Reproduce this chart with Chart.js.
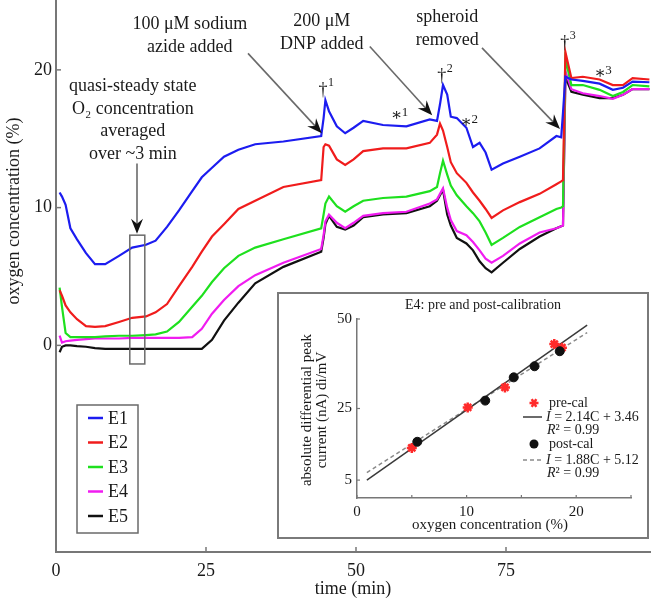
<!DOCTYPE html>
<html>
<head>
<meta charset="utf-8">
<script src="https://cdn.jsdelivr.net/npm/chart.js@4.4.0/dist/chart.umd.min.js"></script>
<style>
  body { margin: 0; background: #fff; }
  #wrap { position: relative; width: 652px; height: 601px; }
  canvas { display: block; }
  #inset { position: absolute; left: 277px; top: 292px; width: 368px; height: 243px;
           border: 2px solid #7a7a7a; background: #fff; }
</style>
</head>
<body>
<div id="wrap">
  <canvas id="main" width="652" height="601"></canvas>
  <div id="inset"><canvas id="cal" width="368" height="243"></canvas></div>
</div>
<script>
// main trace, time in min, O2 in %
const times = [0.6, 1.0, 1.6, 2.4, 3.5, 5.0, 6.5, 8.2, 10.5, 12.7,
  15.0, 16.6, 18.5, 20.5, 22.7, 24.3, 26.0, 28.0, 30.4, 33.2,
  37.9, 44.2, 44.6, 44.9, 45.5, 46.8, 48.2, 49.6, 51.2, 54.5,
  58.4, 62.3, 63.5, 64.0, 64.5, 65.2, 65.8, 66.8, 68.4, 69.5,
  70.6, 71.6, 72.6, 74.5, 77.3, 80.6, 83.4, 84.2, 84.5, 84.9,
  85.9, 87.8, 90.6, 92.8, 94.5, 96.1, 98.9];
const e1 = [11.1, 10.8, 10.2, 8.5, 7.7, 6.7, 5.9, 5.9, 6.5, 7.1,
  7.3, 7.6, 8.6, 9.8, 11.2, 12.2, 12.9, 13.7, 14.2, 14.6,
  14.8, 15.2, 16.5, 17.8, 17.0, 15.9, 15.4, 15.8, 16.3, 16.0,
  15.9, 16.4, 16.3, 17.5, 18.9, 18.2, 16.6, 16.5, 15.8, 14.4,
  14.7, 14.0, 12.75, 13.2, 13.7, 14.3, 15.2, 15.1, 16.9, 19.5,
  19.3, 19.2, 19.0, 18.55, 18.7, 19.15, 19.1];
const e2 = [4.0, 3.6, 2.9, 2.4, 1.9, 1.4, 1.35, 1.4, 1.7, 2.0,
  2.1, 2.4, 3.0, 4.3, 5.7, 6.8, 7.9, 8.8, 9.9, 10.5,
  11.5, 12.0, 14.4, 14.6, 14.5, 13.5, 13.1, 13.5, 14.1, 14.3,
  14.3, 14.7, 15.3, 16.1, 15.6, 14.4, 13.3, 12.5, 11.8, 11.1,
  10.5, 9.9, 9.25, 9.8, 10.4, 11.0, 11.7, 11.9, 12.0, 21.3,
  19.4, 19.5, 19.3, 18.9, 18.9, 19.4, 19.3];
const e3 = [4.2, 2.8, 0.9, 0.6, 0.6, 0.6, 0.6, 0.65, 0.7, 0.7,
  0.75, 0.8, 1.0, 1.7, 2.8, 3.6, 4.6, 5.6, 6.5, 7.1,
  7.7, 8.5, 9.5, 10.3, 10.8, 10.1, 9.7, 10.1, 10.5, 10.7,
  10.8, 11.2, 11.5, 12.5, 13.4, 12.4, 11.6, 10.9, 10.1, 9.6,
  9.0, 8.2, 7.3, 7.8, 8.6, 9.3, 9.9, 10.0, 10.1, 20.8,
  18.9, 18.9, 18.55, 18.1, 18.4, 18.9, 18.8];
const e4 = [0.7, 0.2, 0.3, 0.35, 0.4, 0.45, 0.5, 0.5, 0.5, 0.55,
  0.55, 0.55, 0.55, 0.55, 0.6, 1.2, 2.3, 3.3, 4.3, 5.1,
  6.0, 7.0, 8.0, 9.0, 9.5, 8.9, 8.5, 8.9, 9.4, 9.6,
  9.7, 10.3, 10.6, 11.0, 11.4, 10.0, 9.1, 8.3, 8.0, 7.5,
  6.9, 6.3, 6.0, 6.5, 7.4, 8.2, 8.5, 8.65, 8.7, 19.9,
  18.6, 18.3, 18.1, 17.9, 18.2, 18.6, 18.6];
const e5 = [-0.5, -0.1, 0.0, 0.0, -0.05, -0.1, -0.2, -0.25, -0.25, -0.25,
  -0.25, -0.25, -0.25, -0.25, -0.25, -0.25, 0.4, 1.8, 3.1, 4.5,
  5.7, 6.8, 7.8, 8.8, 9.4, 8.6, 8.4, 8.7, 9.3, 9.5,
  9.6, 10.1, 10.5, 10.9, 11.3, 9.5, 8.7, 7.8, 7.4, 6.9,
  6.1, 5.6, 5.3, 6.0, 7.0, 7.9, 8.5, 8.65, 8.7, 19.5,
  18.4, 18.2, 17.95, 17.95, 18.2, 18.6, 18.6];
const seriesNames = ['E1', 'E2', 'E3', 'E4', 'E5'];
const seriesValues = [e1, e2, e3, e4, e5];
const seriesColors = ['#1c1cf0', '#f01c1c', '#1ee01e', '#f01cf0', '#111111'];
const xTicks = [0, 25, 50, 75];
const yTicks = [0, 10, 20];

// inset: E4 calibration
const preCalC = [5.0, 10.1, 13.5, 18.0, 18.7];
const preCalI = [14.0, 25.3, 30.9, 43.0, 42.0];
const postCalC = [5.5, 11.7, 14.3, 16.2, 18.5];
const postCalI = [15.7, 27.2, 33.7, 36.8, 41.0];
const preFitC = [0.9, 21.0];
const preFitI = [5.0, 48.3];
const postFitC = [0.9, 21.0];
const postFitI = [7.1, 46.2];
const calXTicks = [0, 5, 10, 15, 20, 25];
const calXLabels = [0, 10, 20];
const calYTicks = [5, 25, 50];

// annotations, anchored in data units
const notes = [
  { lines: ['100 μM sodium', 'azide added'], x: 22.3, y: 23.3 },
  { lines: ['200 μM', 'DNP added'], x: 44.3, y: 23.5 },
  { lines: ['spheroid', 'removed'], x: 65.2, y: 23.8 },
  { lines: ['quasi-steady state', 'O₂ concentration', 'averaged', 'over ~3 min'], x: 12.8, y: 18.8 }
];
const arrows = [
  [32.0, 21.2, 44.3, 15.4],
  [52.3, 21.7, 62.7, 16.7],
  [71.0, 21.6, 84.0, 15.7],
  [13.5, 13.2, 13.5, 8.1]
];
const daggers = [[44.5, 18.5, '1'], [64.3, 19.5, '2'], [84.8, 21.9, '3']];
const asterisks = [[56.8, 16.7, '1'], [68.4, 16.2, '2'], [90.7, 19.75, '3']];
const avgBox = [12.3, 14.8, -1.35, 8.0];

const SERIF = '"Liberation Serif", "DejaVu Serif", serif';
const AXIS = '#777';
const INK = '#1a1a1a';

function drawArrow(ctx, x1, y1, x2, y2) {
  const ang = Math.atan2(y2 - y1, x2 - x1);
  const len = 15, half = 6, notch = 10;
  const bx = x2 - Math.cos(ang) * notch, by = y2 - Math.sin(ang) * notch;
  ctx.strokeStyle = '#6a6a6a';
  ctx.lineWidth = 1.6;
  ctx.beginPath(); ctx.moveTo(x1, y1); ctx.lineTo(bx, by); ctx.stroke();
  const cx = x2 - Math.cos(ang) * len, cy = y2 - Math.sin(ang) * len;
  const px = -Math.sin(ang) * half, py = Math.cos(ang) * half;
  ctx.fillStyle = '#111';
  ctx.beginPath();
  ctx.moveTo(x2, y2);
  ctx.lineTo(cx + px, cy + py);
  ctx.lineTo(bx, by);
  ctx.lineTo(cx - px, cy - py);
  ctx.closePath();
  ctx.fill();
}

const mainDecor = {
  id: 'mainDecor',
  afterDraw(chart) {
    const { ctx, chartArea: a, scales: { x, y } } = chart;
    ctx.save();
    // inward tick marks
    ctx.strokeStyle = AXIS;
    ctx.lineWidth = 1.5;
    xTicks.forEach(v => {
      const p = x.getPixelForValue(v);
      ctx.beginPath(); ctx.moveTo(p, a.bottom); ctx.lineTo(p, a.bottom - 5); ctx.stroke();
    });
    yTicks.forEach(v => {
      const p = y.getPixelForValue(v);
      ctx.beginPath(); ctx.moveTo(a.left, p); ctx.lineTo(a.left + 5, p); ctx.stroke();
    });

    // y title, sits above the axis middle in the original
    ctx.fillStyle = INK;
    ctx.font = '18px ' + SERIF;
    ctx.textAlign = 'center';
    ctx.textBaseline = 'middle';
    ctx.save();
    ctx.translate(14, 211);
    ctx.rotate(-Math.PI / 2);
    ctx.fillText('oxygen concentration (%)', 0, 0);
    ctx.restore();

    // averaging window
    ctx.strokeStyle = '#6a6a6a';
    ctx.lineWidth = 1.5;
    const bx1 = x.getPixelForValue(avgBox[0]), bx2 = x.getPixelForValue(avgBox[1]);
    const by1 = y.getPixelForValue(avgBox[3]), by2 = y.getPixelForValue(avgBox[2]);
    ctx.strokeRect(bx1, by1, bx2 - bx1, by2 - by1);

    arrows.forEach(([x1, y1, x2, y2]) => {
      drawArrow(ctx, x.getPixelForValue(x1), y.getPixelForValue(y1),
        x.getPixelForValue(x2), y.getPixelForValue(y2));
    });

    ctx.fillStyle = INK;
    ctx.font = '18px ' + SERIF;
    notes.forEach(n => {
      const px = x.getPixelForValue(n.x), py = y.getPixelForValue(n.y);
      n.lines.forEach((t, i) => ctx.fillText(t, px, py + i * 22.5));
    });

    daggers.forEach(([dx, dy, s]) => {
      const px = x.getPixelForValue(dx), py = y.getPixelForValue(dy);
      ctx.font = '18px ' + SERIF;
      ctx.textAlign = 'center';
      ctx.fillText('†', px, py);
      ctx.font = '12px ' + SERIF;
      ctx.textAlign = 'left';
      ctx.fillText(s, px + 5, py - 8);
    });
    asterisks.forEach(([dx, dy, s]) => {
      const px = x.getPixelForValue(dx), py = y.getPixelForValue(dy);
      ctx.font = '17px ' + SERIF;
      ctx.textAlign = 'center';
      ctx.fillText('∗', px, py);
      ctx.font = '13px ' + SERIF;
      ctx.textAlign = 'left';
      ctx.fillText(s, px + 5, py - 3);
    });

    // legend
    const lx = a.left + 21, ly = a.top + 404;
    ctx.strokeStyle = '#6a6a6a';
    ctx.lineWidth = 1.5;
    ctx.strokeRect(lx, ly, 61, 128);
    ctx.font = '18px ' + SERIF;
    ctx.textAlign = 'left';
    seriesNames.forEach((name, i) => {
      const ry = ly + 13 + i * 24.5;
      ctx.strokeStyle = seriesColors[i];
      ctx.lineWidth = 2.5;
      ctx.beginPath(); ctx.moveTo(lx + 11, ry); ctx.lineTo(lx + 26, ry); ctx.stroke();
      ctx.fillStyle = INK;
      ctx.fillText(name, lx + 31, ry + 1);
    });
    ctx.restore();
  }
};

new Chart(document.getElementById('main'), {
  type: 'line',
  data: {
    datasets: seriesNames.map((name, i) => ({
      label: name,
      data: times.map((t, j) => ({ x: t, y: seriesValues[i][j] })),
      borderColor: seriesColors[i],
      borderWidth: 2.2,
      pointRadius: 0,
      tension: 0,
      fill: false
    }))
  },
  options: {
    responsive: false,
    animation: false,
    layout: { padding: { top: 1, right: 2, left: 0, bottom: 0 } },
    plugins: { legend: { display: false }, tooltip: { enabled: false } },
    scales: {
      x: {
        type: 'linear', min: 0, max: 99,
        afterBuildTicks: s => { s.ticks = xTicks.map(v => ({ value: v })); },
        afterFit: s => { s.height = 49; },
        grid: { display: false, drawTicks: false },
        border: { display: true, color: AXIS, width: 2 },
        ticks: { color: INK, padding: 8, font: { family: SERIF, size: 18 } },
        title: { display: true, text: 'time (min)', color: INK, padding: { top: 0, bottom: 1 },
                 font: { family: SERIF, size: 18 } }
      },
      y: {
        type: 'linear', min: -15, max: 25,
        afterBuildTicks: s => { s.ticks = yTicks.map(v => ({ value: v })); },
        afterFit: s => { s.width = 56; s.paddingTop = 0; s.paddingBottom = 0; },
        grid: { display: false, drawTicks: false },
        border: { display: true, color: AXIS, width: 2 },
        ticks: { color: INK, padding: 4, font: { family: SERIF, size: 18 } }
      }
    }
  },
  plugins: [mainDecor]
});

// ---- inset ----
function drawItalicLead(ctx, lead, rest, x, y, size) {
  ctx.font = 'italic ' + size + 'px ' + SERIF;
  ctx.fillText(lead, x, y);
  const w = ctx.measureText(lead).width;
  ctx.font = size + 'px ' + SERIF;
  ctx.fillText(rest, x + w, y);
}

const calDecor = {
  id: 'calDecor',
  afterDraw(chart) {
    const { ctx, chartArea: a, scales: { x, y } } = chart;
    ctx.save();
    ctx.strokeStyle = AXIS;
    ctx.lineWidth = 1.2;
    calXTicks.forEach(v => {
      const p = x.getPixelForValue(v);
      ctx.beginPath(); ctx.moveTo(p, a.bottom); ctx.lineTo(p, a.bottom - 3); ctx.stroke();
    });
    calYTicks.forEach(v => {
      const p = y.getPixelForValue(v);
      ctx.beginPath(); ctx.moveTo(a.left, p); ctx.lineTo(a.left + 3, p); ctx.stroke();
    });

    ctx.fillStyle = INK;
    ctx.textBaseline = 'middle';
    ctx.textAlign = 'center';
    ctx.font = '14px ' + SERIF;
    ctx.fillText('E4: pre and post-calibration', 204, 11);
    ctx.font = '15px ' + SERIF;
    ctx.fillText('oxygen concentration (%)', 211, 231);
    ctx.save();
    ctx.translate(36, 116);
    ctx.rotate(-Math.PI / 2);
    ctx.fillText('absolute differential peak', 0, -7.5);
    ctx.fillText('current (nA) di/mV', 0, 7.5);
    ctx.restore();

    // legend
    const mx = 255, tx = 270;
    ctx.textAlign = 'left';
    ctx.strokeStyle = '#ff2a2a';
    ctx.lineWidth = 2.5;
    ctx.beginPath();
    for (let k = 0; k < 3; k++) {
      const ang = k * Math.PI / 3;
      ctx.moveTo(mx - 4.5 * Math.cos(ang), 109 - 4.5 * Math.sin(ang));
      ctx.lineTo(mx + 4.5 * Math.cos(ang), 109 + 4.5 * Math.sin(ang));
    }
    ctx.stroke();
    ctx.fillStyle = '#111';
    ctx.beginPath(); ctx.arc(mx, 150, 4.5, 0, Math.PI * 2); ctx.fill();

    ctx.strokeStyle = '#3a3a3a';
    ctx.lineWidth = 1.5;
    ctx.beginPath(); ctx.moveTo(244, 123); ctx.lineTo(263, 123); ctx.stroke();
    ctx.strokeStyle = '#8a8a8a';
    ctx.setLineDash([4, 3]);
    ctx.beginPath(); ctx.moveTo(244, 166); ctx.lineTo(263, 166); ctx.stroke();
    ctx.setLineDash([]);

    ctx.fillStyle = INK;
    ctx.font = '14px ' + SERIF;
    ctx.fillText('pre-cal', tx, 109);
    drawItalicLead(ctx, 'I', ' = 2.14C + 3.46', tx - 3, 123, 14);
    drawItalicLead(ctx, 'R', '² = 0.99', tx - 2, 136, 14);
    ctx.fillText('post-cal', tx, 150);
    drawItalicLead(ctx, 'I', ' = 1.88C + 5.12', tx - 3, 166, 14);
    drawItalicLead(ctx, 'R', '² = 0.99', tx - 2, 179, 14);
    ctx.restore();
  }
};

new Chart(document.getElementById('cal'), {
  type: 'scatter',
  data: {
    datasets: [
      { label: 'pre fit', type: 'line', data: preFitC.map((c, i) => ({ x: c, y: preFitI[i] })),
        borderColor: '#3a3a3a', borderWidth: 1.5, pointRadius: 0, order: 3 },
      { label: 'post fit', type: 'line', data: postFitC.map((c, i) => ({ x: c, y: postFitI[i] })),
        borderColor: '#8a8a8a', borderWidth: 1.5, borderDash: [4, 3], pointRadius: 0, order: 4 },
      { label: 'pre-cal', data: preCalC.map((c, i) => ({ x: c, y: preCalI[i] })),
        pointStyle: 'star', pointRadius: 5, borderColor: '#ff2a2a', backgroundColor: '#ff2a2a',
        pointBorderWidth: 2.5, order: 2 },
      { label: 'post-cal', data: postCalC.map((c, i) => ({ x: c, y: postCalI[i] })),
        pointStyle: 'circle', pointRadius: 4.5, borderColor: '#111', backgroundColor: '#111', order: 1 }
    ]
  },
  options: {
    responsive: false,
    animation: false,
    layout: { padding: { top: 25, right: 16, left: 0, bottom: 0 } },
    plugins: { legend: { display: false }, tooltip: { enabled: false } },
    scales: {
      x: {
        type: 'linear', min: 0, max: 25,
        afterBuildTicks: s => { s.ticks = calXTicks.map(v => ({ value: v })); },
        afterFit: s => { s.height = 39; },
        grid: { display: false, drawTicks: false },
        border: { display: true, color: AXIS, width: 1.5 },
        ticks: { color: INK, padding: 5, autoSkip: false, maxRotation: 0,
                 callback: v => calXLabels.includes(v) ? String(v) : '',
                 font: { family: SERIF, size: 15 } }
      },
      y: {
        type: 'linear', min: 0, max: 50,
        afterBuildTicks: s => { s.ticks = calYTicks.map(v => ({ value: v })); },
        afterFit: s => { s.width = 78; },
        grid: { display: false, drawTicks: false },
        border: { display: true, color: AXIS, width: 1.5 },
        ticks: { color: INK, padding: 5, font: { family: SERIF, size: 15 } }
      }
    }
  },
  plugins: [calDecor]
});
</script>
</body>
</html>
